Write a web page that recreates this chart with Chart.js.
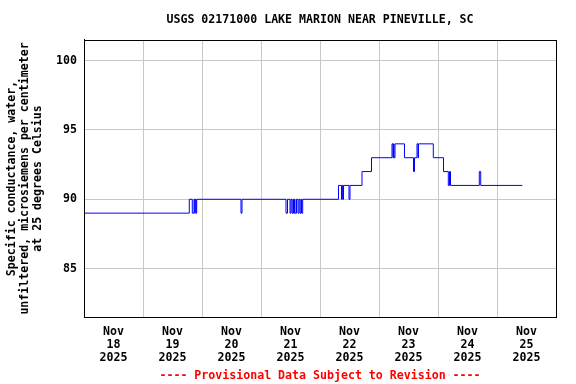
<!DOCTYPE html>
<html>
<head>
<meta charset="utf-8">
<script src="https://cdn.jsdelivr.net/npm/chart.js@4"></script>
<style>
  html, body { margin: 0; padding: 0; background: #fff; }
  #wrap { width: 576px; height: 384px; }
</style>
</head>
<body>
<div id="wrap"><canvas id="gageChart" width="576" height="384"></canvas></div>
<script>
// Specific conductance, hours counted from Nov 18 2025 00:00
// each entry: time the reading changed, and the new value
const changeHours = [
    0, 42.83, 44.05, 44.75, 45.03, 45.27, 45.56, 45.84,
    63.86, 64.27,
    82.17, 82.78, 83.80, 84.20, 84.61, 85.02, 85.22, 85.63, 85.83, 86.44,
    87.05, 87.46, 87.86, 88.27, 88.47, 88.96,
    103.53, 104.75, 105.07, 105.36, 105.56, 107.80, 108.20,
    113.08, 116.95,
    125.29, 125.69, 125.90, 126.10, 126.51, 130.37,
    134.03, 134.44, 135.46, 135.86, 136.07,
    142.09, 146.24, 148.19, 148.68, 149.09,
    160.81, 161.38, 178.29
];
const changeValues = [
    89, 90, 89, 90, 89, 90, 89, 90,
    89, 90,
    89, 90, 89, 90, 89, 90, 89, 90, 89, 90,
    89, 90, 89, 90, 89, 90,
    91, 90, 91, 90, 91, 90, 91,
    92, 93,
    94, 93, 94, 93, 94, 93,
    92, 93, 94, 93, 94,
    93, 92, 91, 92, 91,
    92, 91, 91
];

const dayLabels = ['18', '19', '20', '21', '22', '23', '24', '25'];
const monthLabel = 'Nov';
const yearLabel = '2025';
const yTicks = [85, 90, 95, 100];

const monoFont = "'DejaVu Sans Mono', 'Liberation Mono', monospace";

// black frame around the plot area
const plotFrame = {
    id: 'plotFrame',
    afterDatasetsDraw(chart) {
        const { ctx, chartArea } = chart;
        ctx.save();
        ctx.strokeStyle = '#000';
        ctx.lineWidth = 1;
        ctx.strokeRect(Math.round(chartArea.left) + 0.5, Math.round(chartArea.top) + 0.5,
            Math.round(chartArea.right - chartArea.left), Math.round(chartArea.bottom - chartArea.top));
        ctx.restore();
    }
};

function initGageChart() {
    const ctx = document.getElementById('gageChart');

    const points = changeHours.map((h, i) => ({ x: h, y: changeValues[i] }));

    new Chart(ctx, {
        type: 'line',
        data: {
            datasets: [{
                data: points,
                borderColor: '#0000ff',
                borderWidth: 1,
                pointRadius: 0,
                stepped: true,
                fill: false
            }]
        },
        options: {
            responsive: false,
            animation: false,
            events: [],
            layout: {
                padding: { left: 0, right: 20, top: 0, bottom: 0 }
            },
            plugins: {
                legend: { display: false },
                tooltip: { enabled: false },
                title: {
                    display: true,
                    fullSize: false,
                    text: 'USGS 02171000 LAKE MARION NEAR PINEVILLE, SC',
                    color: '#000',
                    font: { family: monoFont, size: 11.6, weight: 'bold', lineHeight: 1.2 },
                    padding: { top: 13, bottom: 13 }
                },
                subtitle: {
                    display: true,
                    fullSize: false,
                    position: 'bottom',
                    text: '---- Provisional Data Subject to Revision ----',
                    color: '#ff0000',
                    font: { family: monoFont, size: 11.6, weight: 'bold', lineHeight: 1.2 },
                    padding: { top: 4, bottom: 1 }
                }
            },
            scales: {
                x: {
                    type: 'linear',
                    min: 0,
                    max: 192,
                    afterFit: function(scale) { scale.height = 48; },
                    afterBuildTicks: function(scale) {
                        const t = [];
                        for (let h = 0; h <= 192; h += 12) t.push({ value: h });
                        scale.ticks = t;
                    },
                    border: { display: true, color: '#000', width: 1 },
                    grid: {
                        drawTicks: false,
                        lineWidth: 1,
                        color: function(c) {
                            return (c.tick && c.tick.value % 24 === 0) ? '#c8c8c8' : 'rgba(0,0,0,0)';
                        }
                    },
                    ticks: {
                        autoSkip: false,
                        maxRotation: 0,
                        minRotation: 0,
                        padding: 8,
                        color: '#000',
                        font: { family: monoFont, size: 11.6, weight: 'bold', lineHeight: 1.12 },
                        callback: function(value) {
                            if (value % 24 !== 12) return '';
                            const i = Math.floor(value / 24);
                            return [monthLabel, dayLabels[i], yearLabel];
                        }
                    }
                },
                y: {
                    min: 81.5,
                    max: 101.5,
                    afterFit: function(scale) { scale.width = 84; },
                    afterBuildTicks: function(scale) {
                        scale.ticks = yTicks.map(v => ({ value: v }));
                    },
                    border: { display: true, color: '#000', width: 1 },
                    grid: { drawTicks: false, color: '#c8c8c8', lineWidth: 1 },
                    ticks: {
                        padding: 7,
                        color: '#000',
                        font: { family: monoFont, size: 11.6, weight: 'bold' }
                    },
                    title: {
                        display: true,
                        text: ['Specific conductance, water,',
                               'unfiltered, microsiemens per centimeter',
                               'at 25 degrees Celsius'],
                        color: '#000',
                        font: { family: monoFont, size: 11.6, weight: 'bold', lineHeight: 1.12 },
                        padding: { top: 5.5, bottom: 0 }
                    }
                }
            }
        },
        plugins: [plotFrame]
    });
}

document.addEventListener('DOMContentLoaded', initGageChart);
</script>
</body>
</html>
